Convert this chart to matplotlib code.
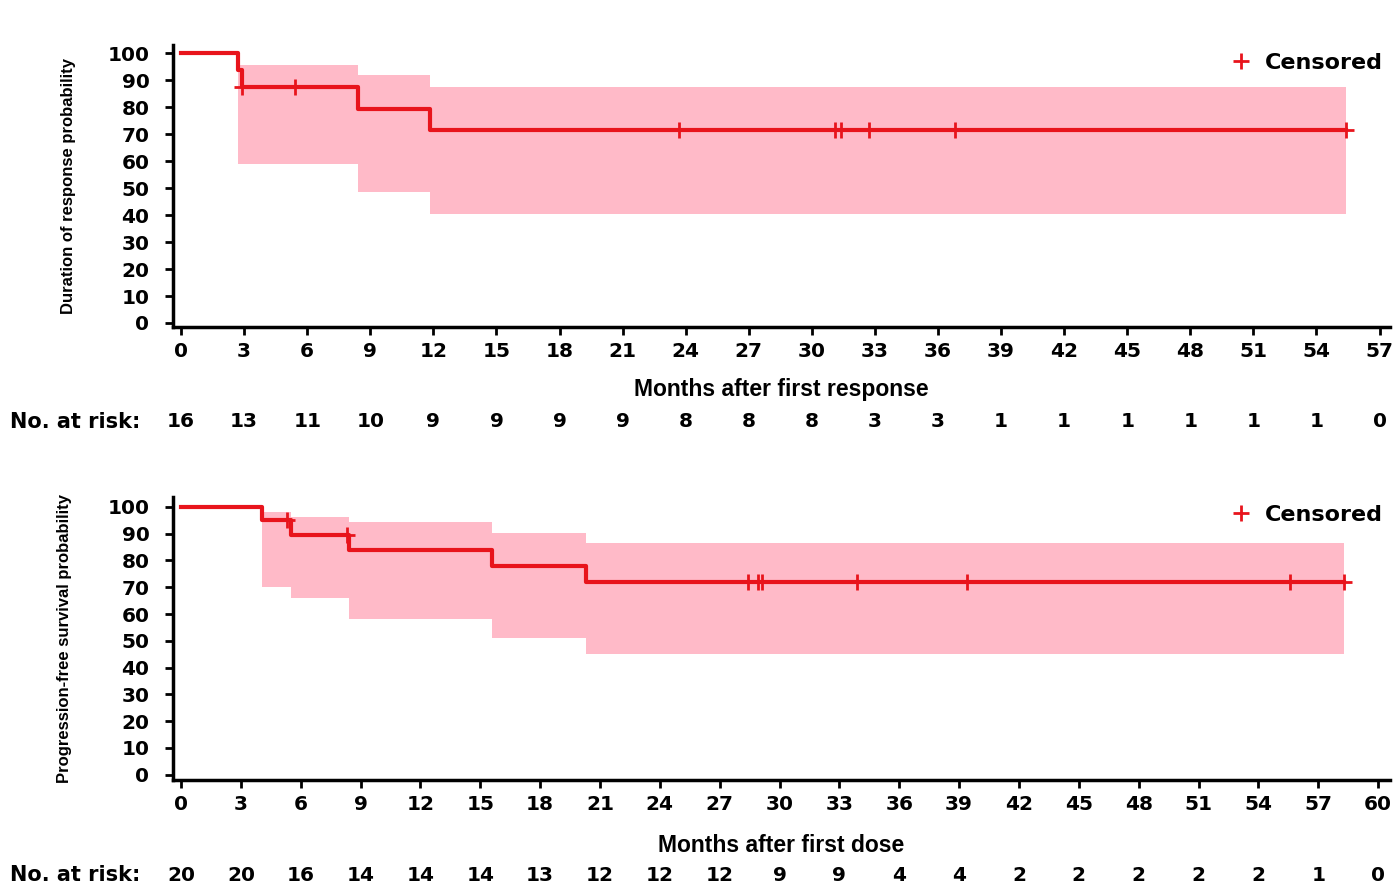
import numpy as np
import matplotlib
matplotlib.use('Agg')
import matplotlib.pyplot as plt
from matplotlib.lines import Line2D

# top panel: duration of response
dor_t = [0, 2.7, 2.9, 8.4, 11.85, 55.4]
dor_s = [100, 93.75, 87.5, 79.5, 71.6, 71.6]
dor_ci_t = [2.7, 8.4, 11.85, 55.4]
dor_ci_lo = [59, 48.5, 40.5, 40.5]
dor_ci_hi = [95.5, 92, 87.5, 87.5]
dor_cens = [2.9, 5.4, 23.7, 31.1, 31.4, 32.7, 36.8, 55.4]
dor_ticks = list(range(0, 58, 3))
dor_risk = [16, 13, 11, 10, 9, 9, 9, 9, 8, 8, 8, 3, 3, 1, 1, 1, 1, 1, 1, 0]

# bottom panel: progression-free survival
pfs_t = [0, 4.06, 5.5, 8.4, 15.6, 20.3, 58.3]
pfs_s = [100, 95, 89.7, 83.8, 77.8, 71.8, 71.8]
pfs_ci_t = [4.06, 5.5, 8.4, 15.6, 20.3, 58.3]
pfs_ci_lo = [70, 66, 58, 51, 45, 45]
pfs_ci_hi = [98, 96.3, 94.4, 90.3, 86.6, 86.6]
pfs_cens = [5.3, 8.3, 28.4, 28.9, 29.1, 33.9, 39.4, 55.6, 58.3]
pfs_ticks = list(range(0, 61, 3))
pfs_risk = [20, 20, 16, 14, 14, 14, 13, 12, 12, 12, 9, 9, 4, 4, 2, 2, 2, 2, 2, 1, 0]

RED = '#e8141c'
PINK = '#ffbac8'


def km_panel(ax, t, s, ci_t, lo, hi, cens, ticks, risk, xlim, ylim, xlabel, ylabel, ylab_x, xlab_y, risk_y):
    ax.fill_between(ci_t, lo, hi, step='post', color=PINK, lw=0)
    ax.step(t, s, where='post', color=RED, lw=3)
    idx = np.searchsorted(t, cens, side='right') - 1
    cy = np.array(s)[idx]
    ax.plot(cens, cy, '+', color=RED, ms=11, mew=2)

    ax.set_xlim(*xlim)
    ax.set_ylim(*ylim)
    ax.set_xticks(ticks)
    ax.set_yticks(range(0, 101, 10))
    for sp in ['top', 'right']:
        ax.spines[sp].set_visible(False)
    ax.spines['left'].set_linewidth(2.5)
    ax.spines['bottom'].set_linewidth(2.5)
    ax.tick_params(axis='both', length=6, width=2, labelsize=14.5)
    ax.tick_params(axis='x', pad=5)
    ax.tick_params(axis='y', pad=11)
    for lab in ax.get_xticklabels() + ax.get_yticklabels():
        lab.set_fontweight('bold')

    ax.set_xlabel(xlabel, fontsize=16.5, fontweight='bold', family='Liberation Sans')
    ax.xaxis.set_label_coords(0.5, xlab_y)
    ax.set_ylabel(ylabel, fontsize=12, fontweight='bold', family='Liberation Sans')
    ax.yaxis.set_label_coords(ylab_x, 0.5)

    for x, n in zip(ticks, risk):
        ax.text(x, risk_y, str(n), transform=ax.get_xaxis_transform(),
                ha='center', va='center', fontsize=14.5, fontweight='bold')

    h = Line2D([], [], color=RED, marker='+', ls='none', ms=11, mew=2)
    ax.legend([h], ['Censored'], loc='upper right', bbox_to_anchor=(1.005, 1.02),
              frameon=False, prop={'size': 16, 'weight': 'bold'},
              handletextpad=0.05, borderaxespad=0.2)


fig = plt.figure(figsize=(13.99, 8.86), dpi=100)
ax1 = fig.add_axes([0.1237, 0.6309, 0.8699, 0.318])
ax2 = fig.add_axes([0.1237, 0.1196, 0.8699, 0.3194])

km_panel(ax1, dor_t, dor_s, dor_ci_t, dor_ci_lo, dor_ci_hi, dor_cens, dor_ticks, dor_risk,
         (-0.38, 57.5), (-1.5, 103), 'Months after first response',
         'Duration of response probability', -0.08, -0.181, -0.337)
km_panel(ax2, pfs_t, pfs_s, pfs_ci_t, pfs_ci_lo, pfs_ci_hi, pfs_cens, pfs_ticks, pfs_risk,
         (-0.4, 60.6), (-2, 103.7), 'Months after first dose',
         'Progression-free survival probability', -0.083, -0.191, -0.336)

fig.text(0.007, 0.5237, 'No. at risk:', ha='left', va='center', fontsize=15, fontweight='bold')
fig.text(0.007, 0.0124, 'No. at risk:', ha='left', va='center', fontsize=15, fontweight='bold')

fig.savefig('out.png', dpi=100)
